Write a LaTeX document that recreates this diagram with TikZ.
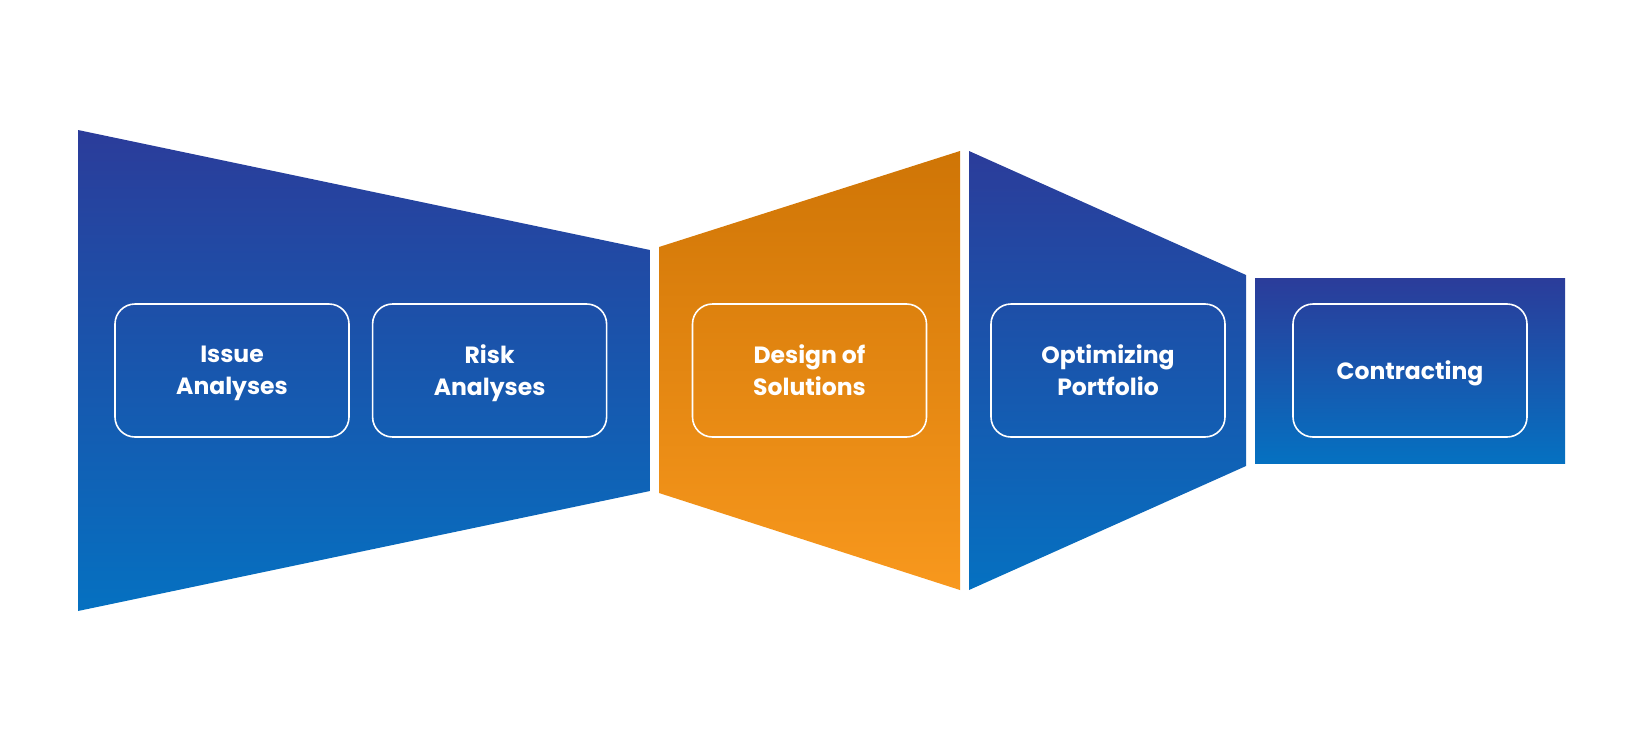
\documentclass[tikz,border=0pt]{standalone}
\usepackage{fontspec}
\setmainfont{Poppins}
\usetikzlibrary{positioning}

\definecolor{bluetop}{HTML}{2B3C9A}
\definecolor{bluebot}{HTML}{0571C1}
\definecolor{orangetop}{HTML}{CF7506}
\definecolor{orangebot}{HTML}{F8981D}

\begin{document}
\begin{tikzpicture}[x=1pt, y=-1pt,
    bluepart/.style={top color=bluetop, bottom color=bluebot, draw=none},
    orangepart/.style={top color=orangetop, bottom color=orangebot, draw=none},
    stage/.style={draw=white, line width=1.6pt, rounded corners=20pt, minimum width=234pt, minimum height=133pt,
        align=center, text=white, font=\fontsize{23.5}{32}\selectfont\bfseries, inner sep=0pt, text depth=-3pt}]
	\useasboundingbox (0,0) rectangle (1635,736);
	
	% funnel parts
	\path[bluepart] (78,130) -- (650,250) -- (650,491) -- (78,611) -- cycle;
	\path[orangepart] (659,247) -- (960,151) -- (960,590) -- (659,493) -- cycle;
	\path[bluepart] (969,151) -- (1246,275) -- (1246,466) -- (969,590) -- cycle;
	\path[bluepart] (1255,278) rectangle (1565,463);
	
	\node[stage] (issue) at (232,370.5) {Issue\\Analyses};
	\node[stage] (risk) [right=22pt of issue] {Risk\\Analyses};
	\node[stage] (design) at (809.5,370.5) {Design of\\Solutions};
	\node[stage] (portfolio) at (1108,370.5) {Optimizing\\Portfolio};
	\node[stage] (contract) at (1410,370.5) {Contracting};
\end{tikzpicture}
\end{document}
